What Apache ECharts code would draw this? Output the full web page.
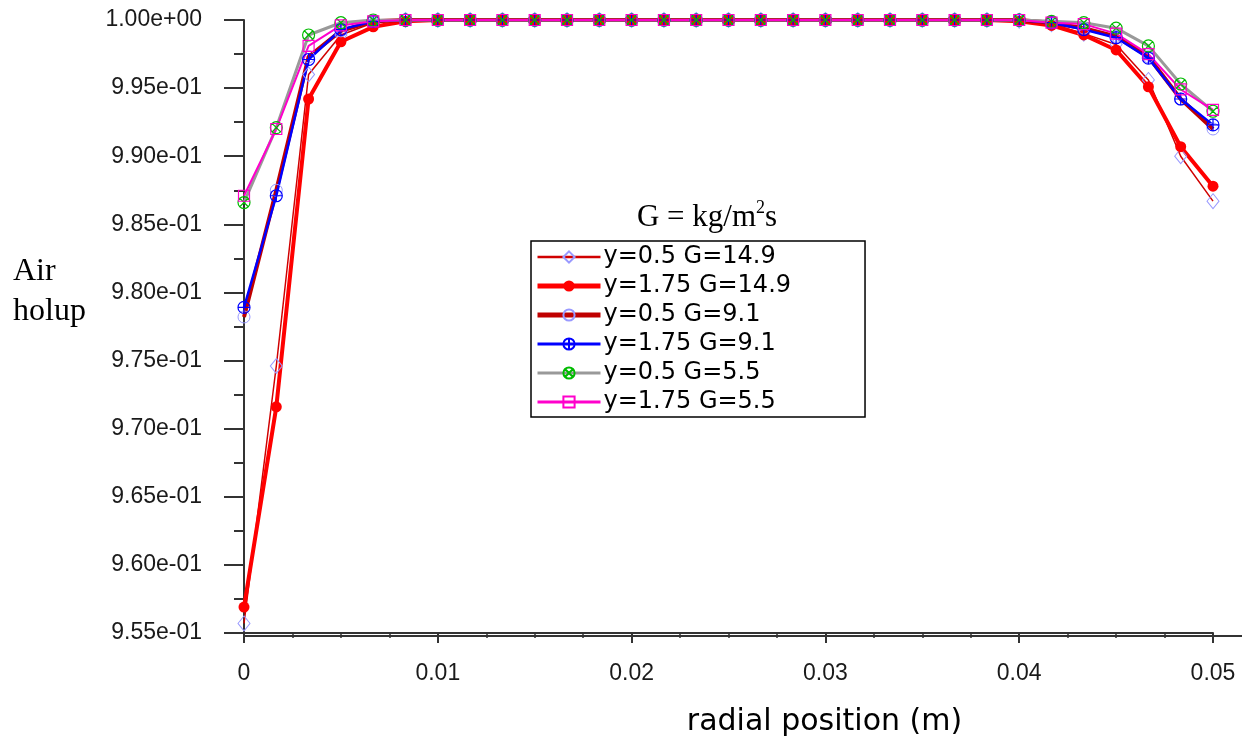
<!DOCTYPE html>
<html>
<head>
<meta charset="utf-8">
<script src="https://cdn.jsdelivr.net/npm/echarts@6/dist/echarts.min.js"></script>
<style>
html,body{margin:0;padding:0;background:#fff;}
#chart{width:1242px;height:742px;}
</style>
</head>
<body>
<div id="chart"></div>
<script>
// radial positions (m)
const xPositions = [0, 0.001667, 0.003333, 0.005, 0.006667, 0.008333, 0.01, 0.011667, 0.013333, 0.015,
  0.016667, 0.018333, 0.02, 0.021667, 0.023333, 0.025, 0.026667, 0.028333, 0.03, 0.031667,
  0.033333, 0.035, 0.036667, 0.038333, 0.04, 0.041667, 0.043333, 0.045, 0.046667, 0.048333, 0.05];

const seriesNames = ['y=0.5 G=14.9', 'y=1.75 G=14.9', 'y=0.5 G=9.1', 'y=1.75 G=9.1', 'y=0.5 G=5.5', 'y=1.75 G=5.5'];

const y05G149 = [0.9557, 0.9746, 0.9960, 0.9989, 0.9998, 1.0, 1.0, 1.0, 1.0, 1.0,
  1.0, 1.0, 1.0, 1.0, 1.0, 1.0, 1.0, 1.0, 1.0, 1.0,
  1.0, 1.0, 1.0, 1.0, 0.99995, 0.9997, 0.9990, 0.9982, 0.9956, 0.9900, 0.9867];
const y175G149 = [0.9569, 0.9716, 0.9942, 0.9984, 0.9995, 0.9999, 1.0, 1.0, 1.0, 1.0,
  1.0, 1.0, 1.0, 1.0, 1.0, 1.0, 1.0, 1.0, 1.0, 1.0,
  1.0, 1.0, 1.0, 1.0, 0.9999, 0.9996, 0.9989, 0.9978, 0.9951, 0.9907, 0.9878];
const y05G91 = [0.9782, 0.9875, 0.9973, 0.9992, 0.9999, 1.0, 1.0, 1.0, 1.0, 1.0,
  1.0, 1.0, 1.0, 1.0, 1.0, 1.0, 1.0, 1.0, 1.0, 1.0,
  1.0, 1.0, 1.0, 1.0, 1.0, 0.9998, 0.9994, 0.9988, 0.9973, 0.9942, 0.9920];
const y175G91 = [0.9789, 0.9871, 0.9971, 0.9993, 0.9999, 1.0, 1.0, 1.0, 1.0, 1.0,
  1.0, 1.0, 1.0, 1.0, 1.0, 1.0, 1.0, 1.0, 1.0, 1.0,
  1.0, 1.0, 1.0, 1.0, 1.0, 0.9998, 0.9993, 0.9987, 0.9972, 0.9942, 0.9923];
const y05G55 = [0.9866, 0.9921, 0.9989, 0.9998, 1.0, 1.0, 1.0, 1.0, 1.0, 1.0,
  1.0, 1.0, 1.0, 1.0, 1.0, 1.0, 1.0, 1.0, 1.0, 1.0,
  1.0, 1.0, 1.0, 1.0, 1.0, 0.9999, 0.9998, 0.9994, 0.9981, 0.9953, 0.9933];
const y175G55 = [0.9871, 0.9920, 0.9981, 0.9996, 0.9999, 1.0, 1.0, 1.0, 1.0, 1.0,
  1.0, 1.0, 1.0, 1.0, 1.0, 1.0, 1.0, 1.0, 1.0, 1.0,
  1.0, 1.0, 1.0, 1.0, 1.0, 0.9998, 0.9997, 0.9990, 0.9975, 0.9949, 0.9934];

const xTickLabels = ['0', '0.01', '0.02', '0.03', '0.04', '0.05'];

function pairs(ys) { return xPositions.map((x, i) => [x, ys[i]]); }

function fmtExp(v) {
  const s = Number(v).toExponential(2);
  const m = s.match(/^(-?[\d.]+)e([+-])(\d+)$/);
  if (!m) return s;
  return m[1] + 'e' + m[2] + (m[3].length < 2 ? '0' + m[3] : m[3]);
}

const crossCircle = 'path://M0,6A6,6 0 1,1 12,6A6,6 0 1,1 0,6ZM6,0L6,12M0,6L12,6';
const xCircle = 'path://M0,6A6,6 0 1,1 12,6A6,6 0 1,1 0,6ZM1.76,1.76L10.24,10.24M10.24,1.76L1.76,10.24';
const HOLLOW = 'rgba(255,255,255,0)';

const lineColors = ['#d00000', '#ff0000', '#c00000', '#0000ff', '#999999', '#ff00cc'];
const lineWidths = [1.5, 4, 4, 2.5, 3, 2];
const legendWidths = [2.5, 5, 5, 3, 3, 3];

const chart = echarts.init(document.getElementById('chart'), null, {renderer: 'canvas'});

const option = {
  backgroundColor: '#ffffff',
  animation: false,
  title: {
    text: '{a|G = kg/m}{s|2}{a|s}',
    left: 702,
    top: 194,
    textAlign: 'center',
    textStyle: {
      fontWeight: 'normal',
      rich: {
        a: {fontFamily: 'Liberation Serif', fontWeight: 'normal', fontSize: 31, color: '#000', lineHeight: 34, verticalAlign: 'bottom'},
        s: {fontFamily: 'Liberation Serif', fontWeight: 'normal', fontSize: 18, color: '#000', lineHeight: 34, verticalAlign: 'top', padding: [0, 0, 12, 0]}
      }
    }
  },
  graphic: [{
    type: 'text',
    left: 13,
    top: 252,
    style: {
      text: 'Air\nholup',
      font: '32px "Liberation Serif"',
      lineHeight: 40,
      fill: '#000'
    }
  }],
  legend: {
    orient: 'vertical',
    left: 531,
    top: 241,
    padding: [4, 74, 3, 4],
    itemWidth: 63,
    itemHeight: 14,
    itemGap: 5,
    borderColor: '#000',
    borderWidth: 1.5,
    backgroundColor: '#fff',
    textStyle: {fontFamily: 'DejaVu Sans', fontSize: 24, color: '#000', lineHeight: 24, padding: [0, 0, 0, -2]},
    data: seriesNames.map((n, i) => ({name: n, lineStyle: {color: lineColors[i], width: legendWidths[i]}}))
  },
  grid: [
    {left: 244, right: 29, top: 20, bottom: 106},
    {left: 244, right: 0, top: 20, bottom: 106}
  ],
  xAxis: [{
    type: 'value',
    gridIndex: 0,
    min: 0,
    max: 0.05,
    interval: 0.01,
    name: 'radial position (m)',
    nameLocation: 'middle',
    nameGap: 74,
    nameTextStyle: {fontFamily: 'DejaVu Sans', fontSize: 30, color: '#000', padding: [0, 0, 0, 192]},
    axisLine: {show: true, lineStyle: {color: '#333', width: 2}},
    axisTick: {show: true, inside: false, length: 10, lineStyle: {color: '#333', width: 2}},
    minorTick: {show: true, splitNumber: 4, length: 5, lineStyle: {color: '#333', width: 1.5}},
    splitLine: {show: false},
    axisLabel: {
      margin: 29,
      fontFamily: 'Liberation Sans',
      fontSize: 23,
      color: '#1a1a1a',
      formatter: function (v) {
        const idx = Math.round(v / 0.01);
        return xTickLabels[idx] !== undefined ? xTickLabels[idx] : '';
      }
    }
  }, {
    type: 'value',
    gridIndex: 1,
    min: 0,
    max: 1,
    axisLine: {show: true, lineStyle: {color: '#333', width: 2}},
    axisTick: {show: false},
    axisLabel: {show: false},
    splitLine: {show: false}
  }],
  yAxis: [{
    type: 'value',
    gridIndex: 0,
    min: 0.955,
    max: 1.0,
    interval: 0.005,
    axisLine: {show: true, lineStyle: {color: '#333', width: 2}},
    axisTick: {show: true, inside: false, length: 20, lineStyle: {color: '#333', width: 2}},
    minorTick: {show: true, splitNumber: 2, length: 10, lineStyle: {color: '#333', width: 2}},
    splitLine: {show: false},
    axisLabel: {
      margin: 42,
      fontFamily: 'Liberation Sans',
      fontSize: 23,
      color: '#1a1a1a',
      formatter: fmtExp
    }
  }, {
    type: 'value',
    gridIndex: 1,
    show: false
  }],
  series: [
    {
      name: seriesNames[0], type: 'line', data: pairs(y05G149),
      lineStyle: {color: lineColors[0], width: lineWidths[0]},
      symbol: 'diamond', symbolSize: [12, 15],
      itemStyle: {color: HOLLOW, borderColor: '#9999ff', borderWidth: 1}
    },
    {
      name: seriesNames[1], type: 'line', data: pairs(y175G149),
      lineStyle: {color: lineColors[1], width: lineWidths[1]},
      symbol: 'circle', symbolSize: 11,
      itemStyle: {color: '#ff0000', borderColor: '#ff0000', borderWidth: 0}
    },
    {
      name: seriesNames[2], type: 'line', data: pairs(y05G91),
      lineStyle: {color: lineColors[2], width: lineWidths[2]},
      symbol: 'circle', symbolSize: 12,
      itemStyle: {color: HOLLOW, borderColor: '#9999ff', borderWidth: 1}
    },
    {
      name: seriesNames[3], type: 'line', data: pairs(y175G91),
      lineStyle: {color: lineColors[3], width: lineWidths[3]},
      symbol: crossCircle, symbolSize: 12,
      itemStyle: {color: HOLLOW, borderColor: '#0000ff', borderWidth: 1.2}
    },
    {
      name: seriesNames[4], type: 'line', data: pairs(y05G55),
      lineStyle: {color: lineColors[4], width: lineWidths[4]},
      symbol: xCircle, symbolSize: 12,
      itemStyle: {color: HOLLOW, borderColor: '#00bb00', borderWidth: 1.2}
    },
    {
      name: seriesNames[5], type: 'line', data: pairs(y175G55),
      lineStyle: {color: lineColors[5], width: lineWidths[5]},
      symbol: 'rect', symbolSize: 11,
      itemStyle: {color: HOLLOW, borderColor: '#ff00cc', borderWidth: 1.2}
    }
  ]
};

chart.setOption(option);
</script>
</body>
</html>
